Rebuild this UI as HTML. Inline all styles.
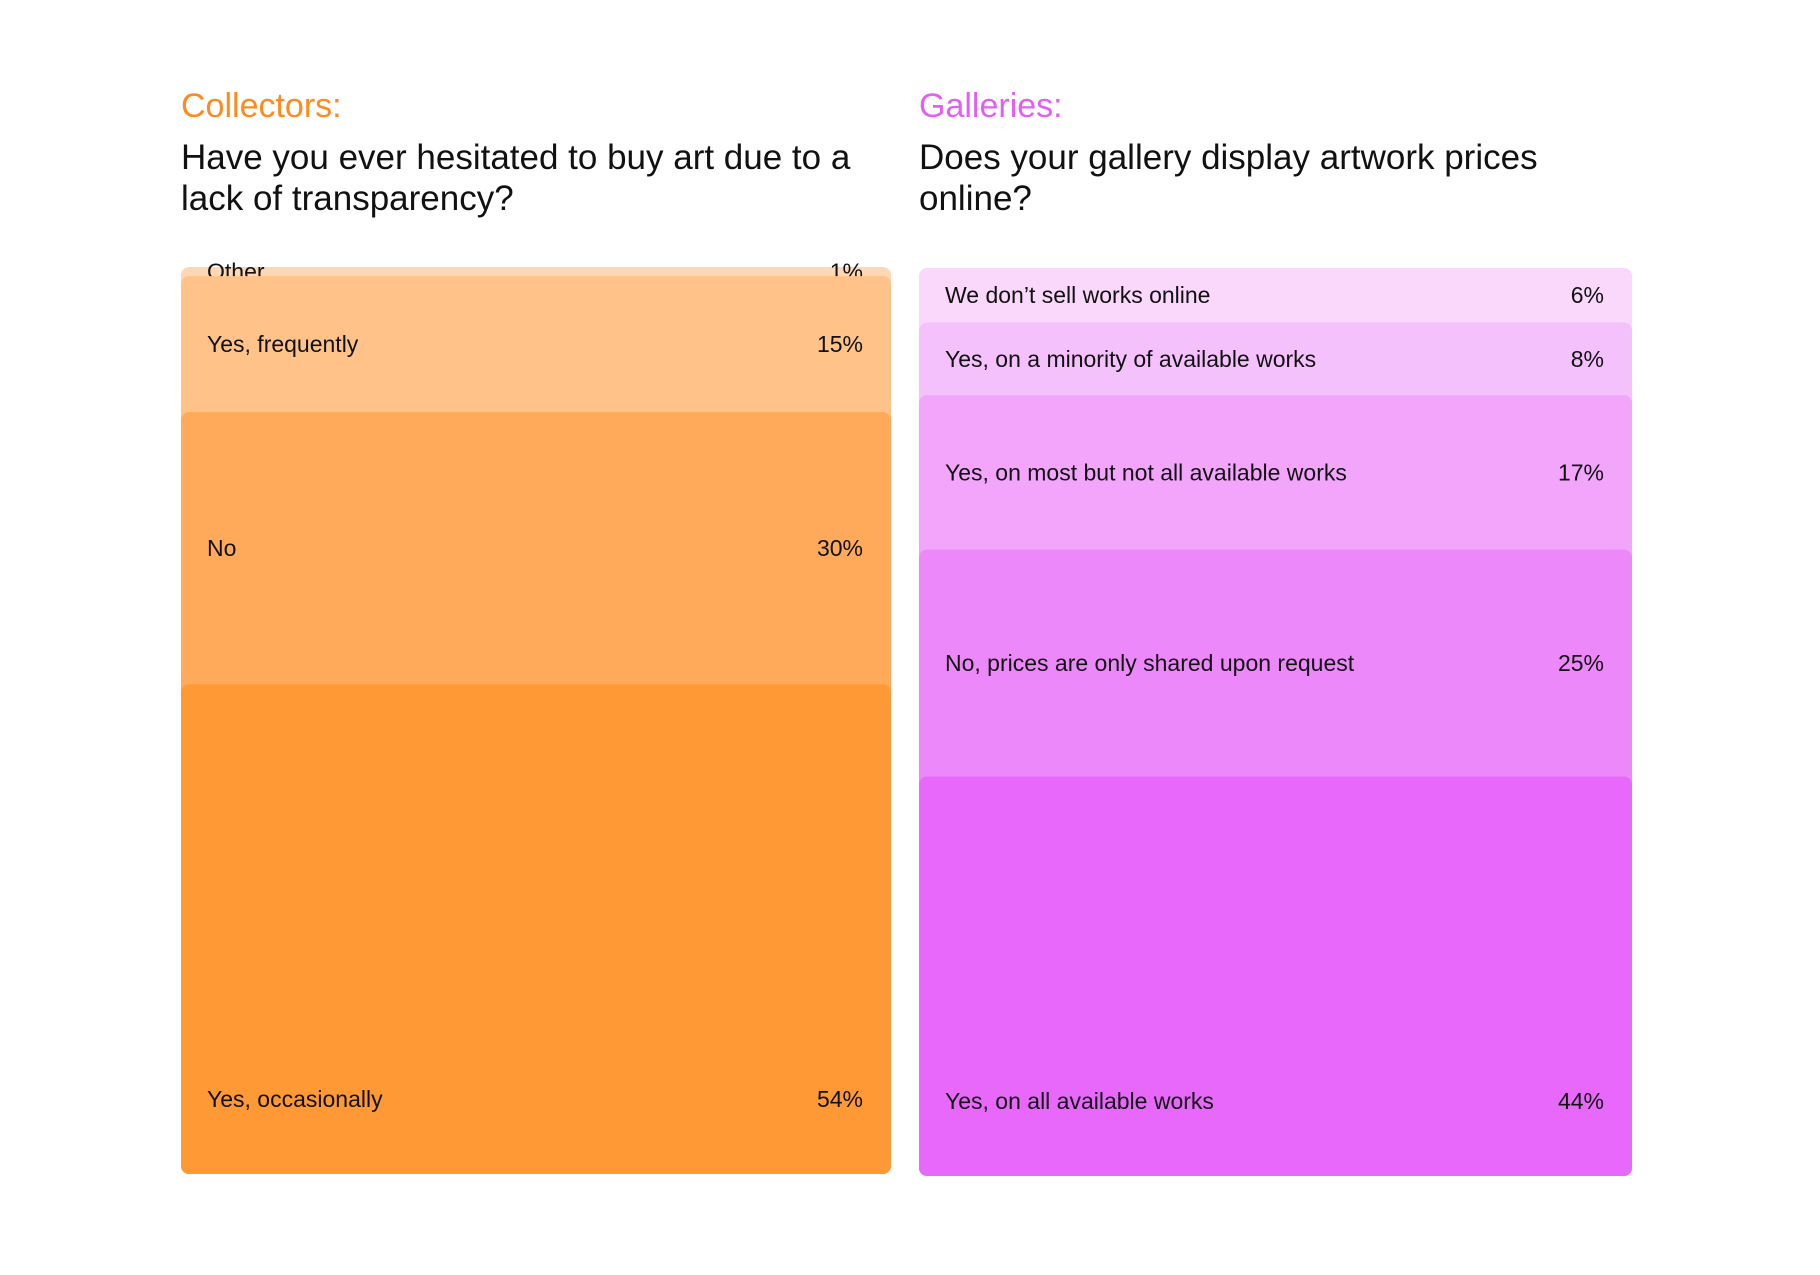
<!DOCTYPE html>
<html><head><meta charset="utf-8">
<style>
html,body{margin:0;padding:0;background:#fff;}
body{width:1820px;height:1275px;overflow:hidden;font-family:"Liberation Sans",sans-serif;}
svg{display:block}
</style></head>
<body>
<svg id="chart" width="1820" height="1275" viewBox="0 0 1820 1275">
  <text x="181" y="117" font-size="34" fill="#ff8a1f">Collectors:</text>
  <text x="181" y="169" font-size="35" fill="#111">Have you ever hesitated to buy art due to a</text>
  <text x="181" y="210" font-size="35" fill="#111">lack of transparency?</text>
  <text x="919" y="117" font-size="34" fill="#e45ef5">Galleries:</text>
  <text x="919" y="169" font-size="35" fill="#111">Does your gallery display artwork prices</text>
  <text x="919" y="210" font-size="35" fill="#111">online?</text>
  <g id="left"></g>
  <g id="right"></g>
</svg>
<script>
const leftCategories = ["Other", "Yes, frequently", "No", "Yes, occasionally"];
const leftValues = [1, 15, 30, 54];
const leftColors = ["#fed8b4", "#ffc38a", "#ffaa5b", "#ff9935"];
const rightCategories = ["We don\u2019t sell works online", "Yes, on a minority of available works", "Yes, on most but not all available works", "No, prices are only shared upon request", "Yes, on all available works"];
const rightValues = [6, 8, 17, 25, 44];
const rightColors = ["#f9d8fc", "#f5c1fc", "#f2a5fb", "#ed88fb", "#e868fb"];

const NS = "http://www.w3.org/2000/svg";
function mk(tag, attrs, parent) {
  const e = document.createElementNS(NS, tag);
  for (const k in attrs) e.setAttribute(k, attrs[k]);
  parent.appendChild(e);
  return e;
}
function drawStack(groupId, cats, vals, colors, x0, x1, top, bottom, prefix) {
  const g = document.getElementById(groupId);
  const total = vals.reduce((a, b) => a + b, 0);
  const yScale = v => (v / total) * (bottom - top);
  let y = top;
  cats.forEach((c, i) => {
    const h = yScale(vals[i]);
    const r = mk("rect", {x: x0, y: y, width: x1 - x0, height: bottom - y, rx: 8, fill: colors[i]}, g);
    
    
    const last = i === cats.length - 1;
    const ty = last ? bottom - 75 : y + h / 2;
    const t = mk("text", {x: x0 + 26, y: ty + 8, "font-size": 23, fill: "#111"}, g);
    t.textContent = c;
    
    
    const v = mk("text", {x: x1 - 28, y: ty + 8, "font-size": 23, fill: "#111", "text-anchor": "end"}, g);
    v.textContent = vals[i] + "%";
    
    
    y += h;
  });
}
drawStack("left", leftCategories, leftValues, leftColors, 181, 891, 267, 1174, "collectors");
drawStack("right", rightCategories, rightValues, rightColors, 919, 1632, 268, 1176, "galleries");
</script>
</body></html>
